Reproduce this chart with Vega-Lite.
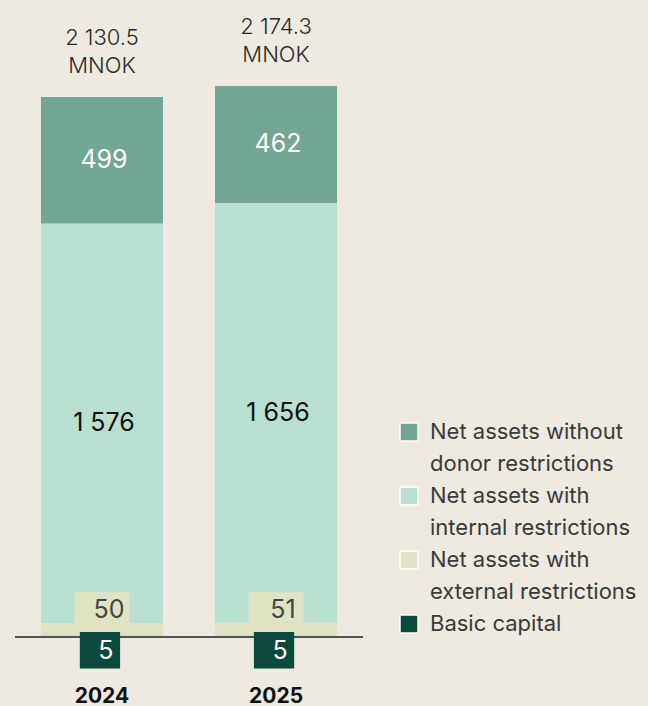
{
  "$schema": "https://vega.github.io/schema/vega-lite/v6.json",
  "width": 348,
  "height": 683,
  "autosize": "none",
  "padding": {"left": 15, "top": 0, "right": 285, "bottom": 23},
  "background": "#eeeae1",
  "datasets": {
    "seg": [
      {"year": "2024", "cat": "Basic capital", "value": 5, "ord": 1},
      {"year": "2024", "cat": "Net assets with external restrictions", "value": 50, "ord": 2},
      {"year": "2024", "cat": "Net assets with internal restrictions", "value": 1576, "ord": 3},
      {"year": "2024", "cat": "Net assets without donor restrictions", "value": 499, "ord": 4},
      {"year": "2025", "cat": "Basic capital", "value": 5, "ord": 1},
      {"year": "2025", "cat": "Net assets with external restrictions", "value": 51, "ord": 2},
      {"year": "2025", "cat": "Net assets with internal restrictions", "value": 1656, "ord": 3},
      {"year": "2025", "cat": "Net assets without donor restrictions", "value": 462, "ord": 4}
    ],
    "tot": [
      {"year": "2024", "total": 2130.5},
      {"year": "2025", "total": 2174.3}
    ]
  },
  "encoding": {
    "x": {
      "field": "year", "type": "nominal",
      "scale": {"paddingInner": 0.299, "paddingOuter": 0.149},
      "axis": {"title": null, "labelAngle": 0, "domain": false, "ticks": false, "labelFontSize": 21, "labelFontWeight": "bold", "labelColor": "#111111", "labelPadding": 13, "labelBaseline": "middle", "labelFont": "Inter"}
    }
  },
  "layer": [
    {
      "data": {"name": "seg"},
      "mark": {"type": "bar"},
      "encoding": {
        "y": {"field": "value", "type": "quantitative", "stack": "zero", "scale": {"domain": [-181.5, 2513], "nice": false, "zero": false}, "axis": null},
        "color": {
          "field": "cat", "type": "nominal",
          "scale": {
            "domain": ["Net assets without donor restrictions", "Net assets with internal restrictions", "Net assets with external restrictions", "Basic capital"],
            "range": ["#72a795", "#b9dfd1", "#dfe3c4", "#0b4a3d"]
          },
          "legend": {
            "title": null, "orient": "none", "legendX": 383, "legendY": 421, "padding": 0,
            "symbolType": "square", "symbolSize": 324, "symbolStrokeColor": "white", "symbolStrokeWidth": 1.5, "symbolOpacity": 1,
            "labelFont": "Inter", "labelFontSize": 22, "labelColor": "#3a3a3a", "labelOffset": 10, "labelLimit": 400, "rowPadding": 9,
            "labelExpr": "datum.label == 'Net assets without donor restrictions' ? ['Net assets without', 'donor restrictions'] : datum.label == 'Net assets with internal restrictions' ? ['Net assets with', 'internal restrictions'] : datum.label == 'Net assets with external restrictions' ? ['Net assets with', 'external restrictions'] : datum.label"
          }
        },
        "order": {"field": "ord", "type": "quantitative"}
      }
    },
    {
      "data": {"name": "seg"},
      "mark": {"type": "rule", "color": "#555555", "strokeWidth": 1.2},
      "encoding": {"y": {"datum": 0, "type": "quantitative"}, "x": null}
    },
    {
      "data": {"name": "seg"},
      "transform": [{"filter": "datum.ord == 2"}],
      "mark": {"type": "bar", "color": "#dfe3c4", "width": {"band": 0.45}},
      "encoding": {"y": {"datum": 47, "type": "quantitative"}, "y2": {"datum": 177}}
    },
    {
      "data": {"name": "seg"},
      "transform": [{"filter": "datum.ord == 2"}],
      "mark": {"type": "text", "font": "Inter", "fontSize": 25, "color": "#454545", "baseline": "middle", "dx": 7},
      "encoding": {"y": {"datum": 106, "type": "quantitative"}, "text": {"field": "value", "type": "quantitative", "format": ","}}
    },
    {
      "data": {"name": "seg"},
      "transform": [{"filter": "datum.ord == 1"}],
      "mark": {"type": "bar", "color": "#0b4a3d", "width": {"band": 0.33}, "xOffset": -2},
      "encoding": {"y": {"datum": 20, "type": "quantitative"}, "y2": {"datum": -124}}
    },
    {
      "data": {"name": "seg"},
      "transform": [{"filter": "datum.ord == 1"}],
      "mark": {"type": "text", "font": "Inter", "fontSize": 25, "color": "white", "baseline": "middle", "dx": 4},
      "encoding": {"y": {"datum": -55, "type": "quantitative"}, "text": {"field": "value", "type": "quantitative", "format": ","}}
    },
    {
      "data": {"name": "seg"},
      "mark": {"type": "text", "font": "Inter", "fontSize": 25, "baseline": "middle", "dx": 2},
      "encoding": {
        "y": {"field": "value", "type": "quantitative", "stack": "zero", "bandPosition": 0.5},
        "detail": {"field": "cat", "type": "nominal"},
        "order": {"field": "ord", "type": "quantitative"},
        "text": {"field": "value", "type": "quantitative", "format": ","},
        "color": {"condition": {"test": "datum.ord == 4", "value": "white"}, "value": "#111111"},
        "opacity": {"condition": {"test": "datum.ord <= 2", "value": 0}, "value": 1}
      }
    },
    {
      "data": {"name": "tot"},
      "mark": {"type": "text", "font": "Inter", "fontSize": 22, "fontWeight": 300, "color": "#2a2a2a", "baseline": "middle", "dy": -59},
      "encoding": {"y": {"field": "total", "type": "quantitative"}, "text": {"field": "total", "type": "quantitative", "format": ",.1f"}}
    },
    {
      "data": {"name": "tot"},
      "mark": {"type": "text", "font": "Inter", "fontSize": 22, "fontWeight": 300, "color": "#2a2a2a", "baseline": "middle", "dy": -31},
      "encoding": {"y": {"field": "total", "type": "quantitative"}, "text": {"value": "MNOK"}}
    }
  ],
  "config": {
    "view": {"stroke": null},
    "locale": {"number": {"decimal": ".", "thousands": "\u00a0", "grouping": [3], "currency": ["", ""]}},
    "style": {"guide-label": {"lineHeight": 32}}
  }
}
